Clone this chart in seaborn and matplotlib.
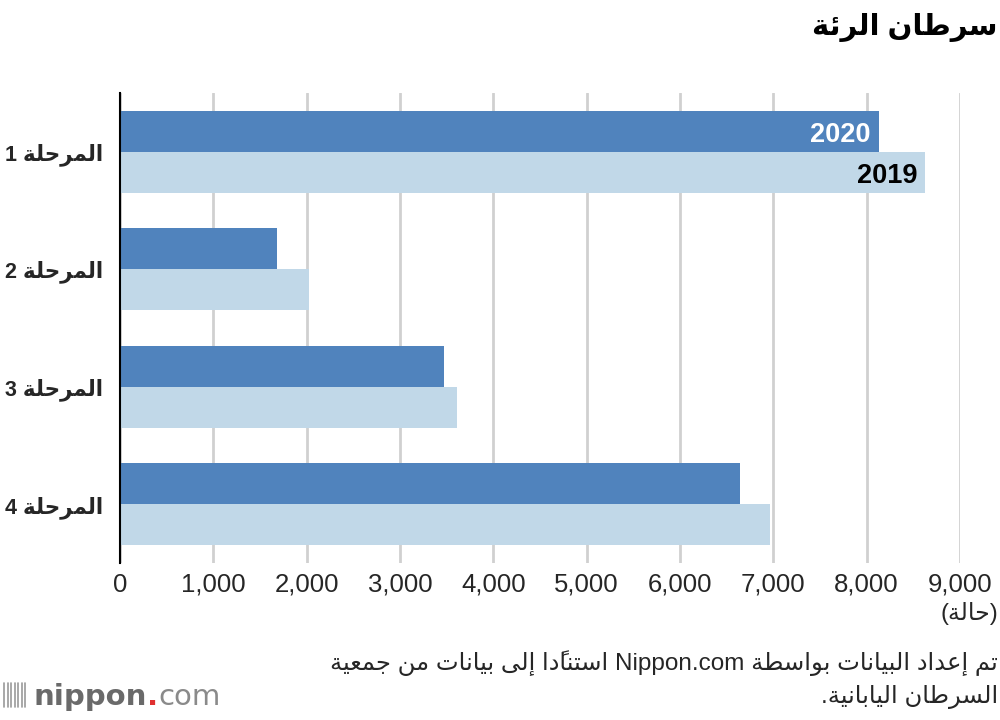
import re
import pandas as pd
import matplotlib
matplotlib.use('Agg')
import matplotlib.pyplot as plt
from matplotlib.lines import Line2D
import seaborn as sns

# data
stages = ['المرحلة 1', 'المرحلة 2', 'المرحلة 3', 'المرحلة 4']
cases_2020 = [8130, 1680, 3470, 6640]
cases_2019 = [8630, 2030, 3610, 6960]
years = ['2020', '2019']
x_ticks = [0, 1000, 2000, 3000, 4000, 5000, 6000, 7000, 8000, 9000]

title = 'سرطان الرئة'
unit = '(حالة)'
source_1 = 'تم إعداد البيانات بواسطة Nippon.com استنادًا إلى بيانات من جمعية'
source_2 = 'السرطان اليابانية.'

dark_blue = '#5083bd'
light_blue = '#c1d8e8'

# matplotlib does no arabic shaping, so map letters to presentation forms
# and lay them out right to left by hand
FORMS = {
    'ا': (0xFE8D, 0xFE8E, None, None), 'إ': (0xFE87, 0xFE88, None, None),
    'ب': (0xFE8F, 0xFE90, 0xFE91, 0xFE92), 'ة': (0xFE93, 0xFE94, None, None),
    'ت': (0xFE95, 0xFE96, 0xFE97, 0xFE98), 'ج': (0xFE9D, 0xFE9E, 0xFE9F, 0xFEA0),
    'ح': (0xFEA1, 0xFEA2, 0xFEA3, 0xFEA4), 'د': (0xFEA9, 0xFEAA, None, None),
    'ر': (0xFEAD, 0xFEAE, None, None), 'س': (0xFEB1, 0xFEB2, 0xFEB3, 0xFEB4),
    'ط': (0xFEC1, 0xFEC2, 0xFEC3, 0xFEC4), 'ع': (0xFEC9, 0xFECA, 0xFECB, 0xFECC),
    'ل': (0xFEDD, 0xFEDE, 0xFEDF, 0xFEE0), 'م': (0xFEE1, 0xFEE2, 0xFEE3, 0xFEE4),
    'ن': (0xFEE5, 0xFEE6, 0xFEE7, 0xFEE8), 'و': (0xFEED, 0xFEEE, None, None),
    'ى': (0xFEEF, 0xFEF0, None, None), 'ي': (0xFEF1, 0xFEF2, 0xFEF3, 0xFEF4),
    'ئ': (0xFE89, 0xFE8A, 0xFE8B, 0xFE8C),
}
MARKS = set('\u064b\u064c\u064d\u064e\u064f\u0650\u0651\u0652')


def shape(s):
    # clusters of base char + following marks
    clusters = []
    for ch in s:
        if ch in MARKS and clusters:
            clusters[-1] += ch
        else:
            clusters.append(ch)
    out = []
    for i, cl in enumerate(clusters):
        base, marks = cl[0], cl[1:]
        if base not in FORMS:
            out.append(cl)
            continue
        prev = clusters[i - 1][0] if i > 0 else None
        nxt = clusters[i + 1][0] if i + 1 < len(clusters) else None
        j_prev = prev in FORMS and FORMS[prev][2] is not None
        j_next = FORMS[base][2] is not None and nxt in FORMS
        iso, fin, ini, med = FORMS[base]
        if j_prev and j_next:
            g = med
        elif j_prev:
            g = fin
        elif j_next:
            g = ini
        else:
            g = iso
        out.append(chr(g) + marks)
    # visual order: reverse clusters, keep latin/digit runs left to right
    vis = ''.join(reversed(out))
    vis = re.sub(r'[A-Za-z0-9][A-Za-z0-9.,]*[A-Za-z0-9]', lambda m: m.group(0)[::-1], vis)
    vis = vis.translate(str.maketrans('()', ')('))
    return vis


df = pd.DataFrame({
    'stage': stages * 2,
    'year': [years[0]] * len(stages) + [years[1]] * len(stages),
    'cases': cases_2020 + cases_2019,
})
df['label'] = df['stage'].map(shape)

sns.set_theme(style='white')
plt.rcParams['font.family'] = ['Liberation Sans', 'DejaVu Sans']

fig = plt.figure(figsize=(10, 7.2), dpi=100)
ax = fig.add_axes([0.12, 0.218, 0.84, 0.653])

sns.barplot(data=df, y='label', x='cases', hue='year', hue_order=years,
            order=[shape(s) for s in stages], orient='h',
            palette=[dark_blue, light_blue], width=0.7, saturation=1,
            linewidth=0, legend=False, ax=ax)

ax.set_xlim(0, 9000)
ax.set_xticks(x_ticks)
ax.set_xticklabels([f'{v:,}' for v in x_ticks], fontsize=18.5)
ax.tick_params(axis='x', length=0, pad=7)
ax.tick_params(axis='y', length=0, pad=12)
for lab in ax.get_yticklabels():
    lab.set_fontsize(15.5)
    lab.set_fontweight('bold')
ax.set_xlabel('')
ax.set_ylabel('')
ax.grid(axis='x', color='#d0d0d0', linewidth=2)
ax.set_axisbelow(True)
for side in ['top', 'right', 'bottom']:
    ax.spines[side].set_visible(False)
ax.spines['left'].set_color('black')
ax.spines['left'].set_linewidth(1.5)

# year labels inside the first group of bars (y axis runs top-down)
for cont, name, col in zip(ax.containers, years, ['white', 'black']):
    bar = cont.patches[0]
    ax.text(bar.get_width() - 90, bar.get_y() + bar.get_height() * 0.6, name,
            ha='right', va='center', fontsize=19.5, fontweight='bold', color=col)

fig.text(0.998, 0.962, shape(title), ha='right', va='center',
         fontsize=21, fontweight='bold', color='black')
fig.text(0.998, 0.148, shape(unit), ha='right', va='center', fontsize=17)
fig.text(0.998, 0.079, shape(source_1), ha='right', va='center', fontsize=17.5)
fig.text(0.998, 0.032, shape(source_2), ha='right', va='center', fontsize=17.5)

# nippon.com logo
for k in range(7):
    x = 0.004 + k * 0.0035
    fig.add_artist(Line2D([x, x], [0.018, 0.052], color='#9a9a9a',
                          linewidth=1.2, transform=fig.transFigure))
t1 = fig.text(0.034, 0.032, 'nippon', ha='left', va='center', fontsize=21,
              fontweight='bold', color='#6a6a6a', family='DejaVu Sans')
t2 = ax.annotate('.', xy=(1, 0), xycoords=t1, va='bottom', ha='left',
                 fontsize=21, fontweight='bold', color='#e03030',
                 family='DejaVu Sans', annotation_clip=False)
ax.annotate('com', xy=(1, 0), xycoords=t2, va='bottom', ha='left',
            fontsize=21, color='#8a8a8a', family='DejaVu Sans',
            annotation_clip=False)

fig.savefig('out.png', dpi=100)
